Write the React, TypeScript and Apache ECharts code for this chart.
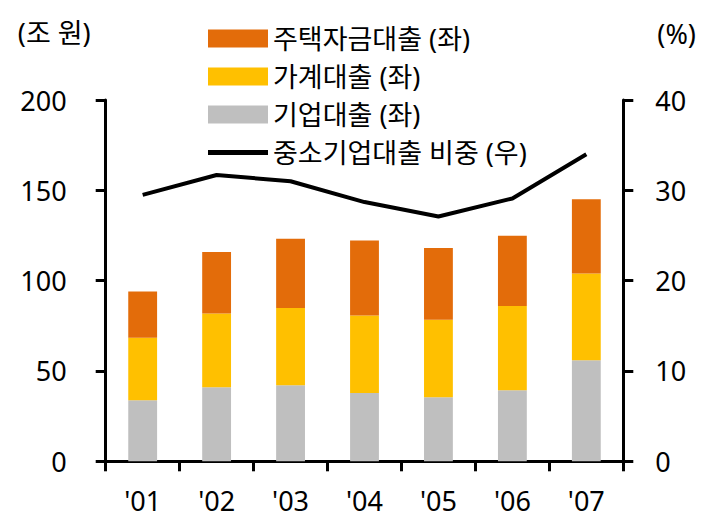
import React, { useEffect, useRef } from "react";
import * as echarts from "echarts";

const categories = ["'01", "'02", "'03", "'04", "'05", "'06", "'07"];
const corporateLoans = [33.8, 41.0, 42.1, 37.8, 35.4, 39.3, 55.9];
const householdLoans = [34.6, 40.8, 42.7, 42.9, 42.9, 46.6, 48.0];
const housingLoans = [25.6, 34.0, 38.4, 41.5, 39.8, 38.9, 41.1];
const smeShare = [29.5, 31.7, 31.0, 28.7, 27.1, 29.1, 34.0];

const leftUnit = "(조 원)";
const rightUnit = "(%)";
const nameHousing = "주택자금대출 (좌)";
const nameHousehold = "가계대출 (좌)";
const nameCorporate = "기업대출 (좌)";
const nameShare = "중소기업대출 비중 (우)";

const FONT = "'Noto Sans', 'Noto Sans CJK KR', sans-serif";

export default function App() {
  const ref = useRef<HTMLDivElement>(null);
  useEffect(() => {
    const chart = echarts.init(ref.current!, null, { renderer: "svg" });
    const axisCommon = {
      axisLine: { show: true, lineStyle: { color: "#000", width: 3 } },
      axisTick: { show: true, length: 10, lineStyle: { color: "#000", width: 3 } },
      splitLine: { show: false },
    };
    chart.setOption({
      animation: false,
      backgroundColor: "#fff",
      textStyle: { fontFamily: FONT },
      grid: { left: 105.7, right: 91.7, top: 100, bottom: 70.7, containLabel: false },
      legend: {
        orient: "vertical",
        left: 208,
        top: 25,
        padding: 0,
        itemWidth: 60,
        itemHeight: 18,
        itemGap: 11,
        textStyle: { fontFamily: FONT, fontSize: 27, color: "#000", lineHeight: 26 },
        data: [
          { name: nameHousing, icon: "rect" },
          { name: nameHousehold, icon: "rect" },
          { name: nameCorporate, icon: "rect" },
          { name: nameShare, icon: "path://M0,0H60V5H0Z", itemStyle: { color: "#000" } },
        ],
      },
      xAxis: {
        type: "category",
        data: categories,
        boundaryGap: true,
        ...axisCommon,
        axisTick: { show: true, length: 10, alignWithLabel: false, lineStyle: { color: "#000", width: 3 } },
        axisLabel: { color: "#000", fontSize: 27, fontFamily: FONT, margin: 26 },
      },
      yAxis: [
        {
          type: "value",
          min: 0,
          max: 200,
          interval: 50,
          position: "left",
          name: leftUnit,
          nameLocation: "end",
          nameGap: 68,
          nameTextStyle: {
            color: "#000",
            fontSize: 27,
            fontFamily: FONT,
            align: "right",
            verticalAlign: "middle",
            padding: [0, 15, 0, 0],
          },
          ...axisCommon,
          axisLabel: { color: "#000", fontSize: 27, fontFamily: FONT, margin: 39 },
        },
        {
          type: "value",
          min: 0,
          max: 40,
          interval: 10,
          position: "right",
          name: rightUnit,
          nameLocation: "end",
          nameGap: 67,
          nameTextStyle: {
            color: "#000",
            fontSize: 27,
            fontFamily: FONT,
            align: "left",
            verticalAlign: "middle",
            padding: [0, 0, 0, 34],
          },
          ...axisCommon,
          axisLabel: { color: "#000", fontSize: 27, fontFamily: FONT, margin: 32 },
        },
      ],
      series: [
        {
          name: nameCorporate,
          type: "bar",
          stack: "loans",
          barWidth: "39%",
          itemStyle: { color: "#BFBFBF" },
          data: corporateLoans,
        },
        {
          name: nameHousehold,
          type: "bar",
          stack: "loans",
          barWidth: "39%",
          itemStyle: { color: "#FFC000" },
          data: householdLoans,
        },
        {
          name: nameHousing,
          type: "bar",
          stack: "loans",
          barWidth: "39%",
          itemStyle: { color: "#E36C0A" },
          data: housingLoans,
        },
        {
          name: nameShare,
          type: "line",
          yAxisIndex: 1,
          symbol: "none",
          z: 5,
          lineStyle: { color: "#000", width: 4 },
          itemStyle: { color: "#000" },
          data: smeShare,
        },
      ],
    });
    return () => chart.dispose();
  }, []);
  return (
    <div
      ref={ref}
      style={{ position: "absolute", left: 0, top: 0, width: 715, height: 532, background: "#fff" }}
    />
  );
}
